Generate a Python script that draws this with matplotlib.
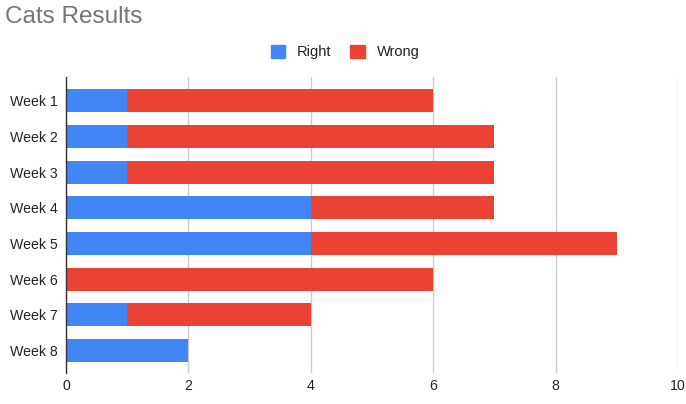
import matplotlib.pyplot as plt
from matplotlib.patches import Patch

plt.rcParams['font.family'] = ['Liberation Sans', 'DejaVu Sans']

weeks = ['Week 1', 'Week 2', 'Week 3', 'Week 4', 'Week 5', 'Week 6', 'Week 7', 'Week 8']
right = [1, 1, 1, 4, 4, 0, 1, 2]
wrong = [5, 6, 6, 3, 5, 6, 3, 0]

blue = '#4285F4'
red = '#EA4335'

fig = plt.figure(figsize=(6.86, 4.04), dpi=100)
ax = fig.add_axes([66 / 686, 1 - 373 / 404, 612 / 686, 296 / 404])

ypos = list(range(len(weeks)))
ax.barh(ypos, right, height=0.65, color=blue)
ax.barh(ypos, wrong, left=right, height=0.65, color=red)

ax.set_ylim(7.63, -0.67)
ax.set_xlim(0, 10)
ax.set_yticks(ypos)
ax.set_yticklabels(weeks)
ax.set_xticks([0, 2, 4, 6, 8, 10])
ax.tick_params(length=0, labelsize=10.2, labelcolor='#222222')
ax.tick_params(axis='x', pad=4)
ax.tick_params(axis='y', pad=6)

ax.grid(axis='x', color='#cccccc', linewidth=1)
ax.set_axisbelow(True)
for s in ['top', 'right', 'bottom']:
    ax.spines[s].set_visible(False)
ax.spines['left'].set_color('#333333')
ax.spines['left'].set_linewidth(1)
ax.spines['left'].set_zorder(3)

fig.text(5 / 686, 1 - 17 / 404, 'Cats Results', fontsize=17.5, color='#757575',
         va='center', ha='left')

handles = [Patch(color=blue, label='Right'), Patch(color=red, label='Wrong')]
fig.legend(handles=handles, loc='center', bbox_to_anchor=(345 / 686, 1 - 52 / 404),
           ncol=2, frameon=False, fontsize=10.5, handlelength=1.0, handleheight=1.0,
           handletextpad=0.8, columnspacing=1.3, labelcolor='#222222')

fig.savefig('out.png', dpi=100)
